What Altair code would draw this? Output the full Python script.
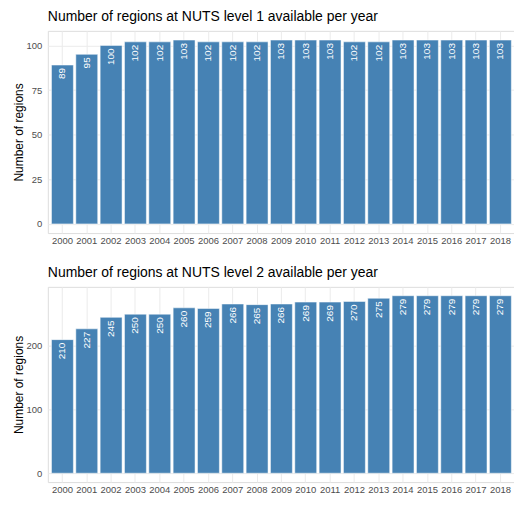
import altair as alt
import pandas as pd
import numpy as np

years = ["2000", "2001", "2002", "2003", "2004", "2005", "2006", "2007", "2008", "2009",
         "2010", "2011", "2012", "2013", "2014", "2015", "2016", "2017", "2018"]
nuts1 = [89, 95, 100, 102, 102, 103, 102, 102, 102, 103, 103, 103, 102, 102, 103, 103, 103, 103, 103]
nuts2 = [210, 227, 245, 250, 250, 260, 259, 266, 265, 266, 269, 269, 270, 275, 279, 279, 279, 279, 279]

title1 = "Number of regions at NUTS level 1 available per year"
title2 = "Number of regions at NUTS level 2 available per year"

FONT = "Liberation Sans"
BAR = "#4682b4"
GRID = "#ebebeb"


def panel(values, title, major, minor, width, height, outer):
    df = pd.DataFrame({"year": years, "n": values})
    vmax = max(values)
    top = vmax * 1.05
    bottom = -vmax * 0.05
    ticks = [float(v) for v in np.arange(0, top, minor)]
    x = alt.X("year:N", title=None,
              scale=alt.Scale(paddingInner=0.1, paddingOuter=outer),
              axis=alt.Axis(labelAngle=0, ticks=False, tickSize=0, domain=False, grid=True,
                            bandPosition=0.5, gridColor=GRID, gridWidth=1,
                            labelPadding=2, labelFontSize=9.5, labelColor="#4d4d4d",
                            labelFont=FONT))
    y = alt.Y("n:Q", title="Number of regions",
              scale=alt.Scale(domain=[bottom, top], nice=False, zero=False),
              axis=alt.Axis(values=ticks, ticks=False, tickSize=0, domain=False, grid=True,
                            gridColor=GRID,
                            gridWidth={"condition": {"test": f"datum.value % {major} !== 0", "value": 0.5}, "value": 1},
                            labelExpr=f"datum.value % {major} === 0 ? datum.label : ''",
                            labelOverlap=False, labelPadding=6, labelFontSize=9.5,
                            labelColor="#4d4d4d", labelFont=FONT,
                            titleFont=FONT, titleFontSize=12, titleFontWeight="normal",
                            titleColor="black", titlePadding=1))
    base = alt.Chart(df)
    bars = base.mark_bar(color=BAR, stroke="white", strokeWidth=0.5).encode(x=x, y=y)
    labels = base.mark_text(angle=270, align="right", baseline="middle", dx=-3,
                            color="white", fontSize=10, font=FONT).encode(
        x=alt.X("year:N"), y=alt.Y("n:Q"), text=alt.Text("n:Q"))
    return alt.layer(bars, labels).properties(
        width=width, height=height,
        title=alt.TitleParams(title, anchor="start", frame="group", fontSize=14,
                              fontWeight="normal", font=FONT, color="black", offset=7))


def build(width, outer, pad_right):
    p1 = panel(nuts1, title1, 25, 12.5, width, 203, outer)
    p2 = panel(nuts2, title2, 100, 50, width, 196, outer)
    return alt.vconcat(p1, p2, spacing=20).properties(
        padding={"left": 3, "top": 0, "right": pad_right, "bottom": 0}
    ).configure_view(stroke=None).configure(font=FONT)


try:
    chart = build(469, 0.15, -2)
    chart.to_dict()
except Exception:
    chart = build(466, 0.05, 0)

chart.save("out.html", embed_options={"renderer": "svg", "actions": False})
